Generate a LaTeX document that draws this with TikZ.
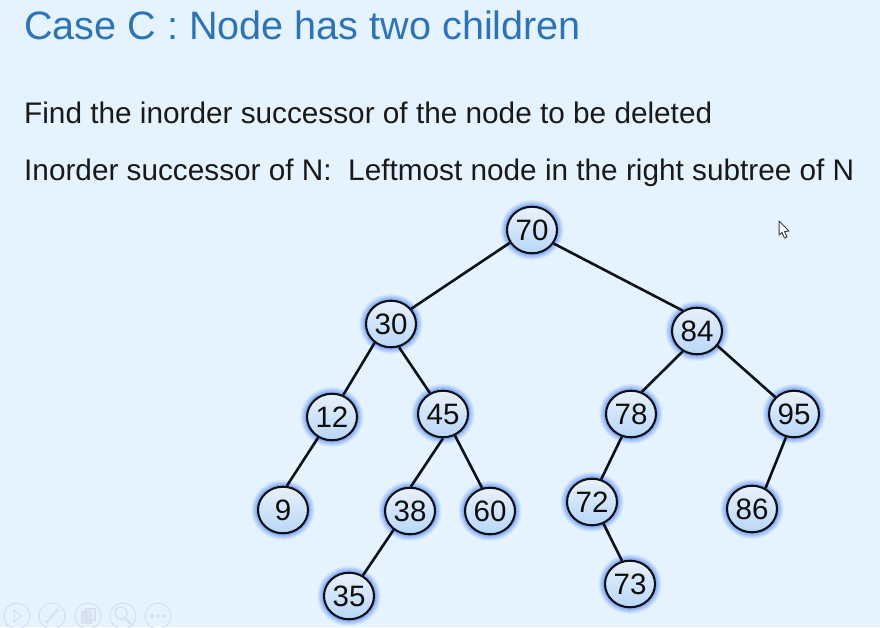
\documentclass[tikz,border=0pt]{standalone}
\usepackage{fontspec}
\usetikzlibrary{shapes.geometric}
\setmainfont{Liberation Sans}
\definecolor{bgc}{RGB}{229,243,255}
\definecolor{titlec}{RGB}{46,116,181}
\definecolor{glowc}{RGB}{80,130,240}
\definecolor{nodetop}{RGB}{234,241,248}
\definecolor{nodemid}{RGB}{208,228,250}
\definecolor{nodebot}{RGB}{184,214,248}
\definecolor{iconc}{RGB}{212,224,236}
\definecolor{linec}{RGB}{12,16,24}
\tikzset{
  bst/.style={ellipse,draw=linec,line width=2.1pt,minimum width=50pt,minimum height=46.6pt,inner sep=0pt,
    top color=nodetop,bottom color=nodebot,middle color=nodemid,
    font=\fontsize{29.5}{30}\selectfont,text=black!95,
    preaction={draw=glowc,draw opacity=.13,line width=13pt},
    preaction={draw=glowc,draw opacity=.18,line width=10pt},
    preaction={draw=glowc,draw opacity=.22,line width=7pt},
    preaction={draw=glowc,draw opacity=.25,line width=4.5pt}},
  edgeline/.style={draw=linec,line width=2.6pt},
  caption/.style={anchor=base west,inner sep=0pt,font=\fontsize{29.75}{30}\selectfont,text=black!90},
  headline/.style={anchor=base west,inner sep=0pt,font=\fontsize{39.6}{40}\selectfont,text=titlec},
  tool/.style={circle,draw=iconc,line width=1pt,minimum size=26pt,inner sep=0pt}
}
\begin{document}
\begin{tikzpicture}[x=1pt,y=-1pt]
\useasboundingbox (0,0) rectangle (880,627);
\fill[bgc] (0,0) rectangle (880,627);
\node[headline] (title) at (24,39) {Case C : Node has two children};
\node[caption] (l1) at (24,123) {Find the inorder successor of the node to be deleted};
\node[caption] (l2) at (24,180) {Inorder successor of N:\ \ Leftmost node in the right subtree of N};
\foreach \n/\x/\y in {70/532/230,30/391/324,84/697/331,12/332/417,45/443/414,78/631/414,95/794/414,9/283/510,38/410/511,60/490/511,72/592/502,86/752/509,35/349/596,73/630/584}
  \node[bst] (n\n) at (\x,\y) {\raisebox{-2pt}{\n}};
\foreach \a/\p/\b/\q in {70/210.6/30/37.3, 70/328.7/84/125.5, 30/229/12/63.4, 30/289/45/122, 12/236.3/9/81,
  45/270/38/88, 45/299.5/60/109, 38/229.6/35/56.3, 84/235.7/78/64.4, 84/324.5/95/138.2,
  78/248.6/72/68.6, 95/251.6/86/57.5, 72/298.6/73/109}
  \draw[edgeline] (n\a.\p) -- (n\b.\q);
% toolbar
\node[tool] (t1) at (17,616) {};
\node[tool] (t2) at (52,616) {};
\node[tool] (t3) at (88,616) {};
\node[tool] (t4) at (123,616) {};
\node[tool] (t5) at (158,616) {};
\draw[iconc,line width=1pt] (14,610) -- (22,616) -- (14,622) -- cycle;
\draw[iconc,line width=2pt] (46,623) -- (58,609);
\draw[iconc,line width=1.5pt,fill=iconc!60!bgc] (82,612) rectangle (91,623);
\draw[iconc,line width=1.5pt] (86,609) rectangle (95,620);
\draw[iconc,line width=1.3pt] (121,613) circle (6);
\draw[iconc,line width=2pt] (125,618) -- (131,624);
\foreach \x in {152,158,164} \draw[iconc,line width=1pt] (\x,616) circle (1.6);
% cursor
\draw[fill=white,draw=black!75,line width=1pt,line join=round] (779,221) -- (779,235) -- (782,232.5) -- (784.5,238) -- (787,237) -- (784.5,231.5) -- (789,231) -- cycle;
\end{tikzpicture}
\end{document}
